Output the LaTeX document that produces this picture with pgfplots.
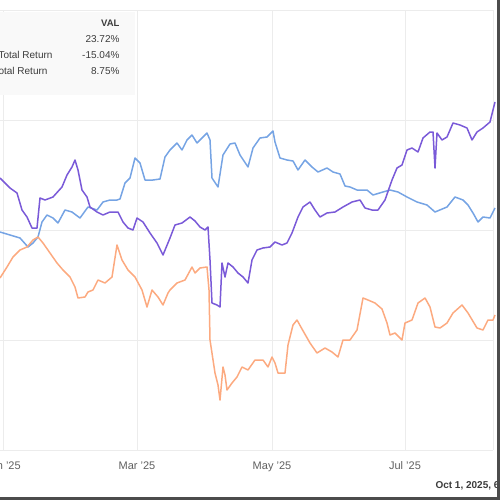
\documentclass[border=0pt]{standalone}
\usepackage{fontspec}
\setmainfont{Liberation Sans}
\usepackage{pgfplots}
\pgfplotsset{compat=1.18}

\definecolor{valpurple}{RGB}{122,90,216}
\definecolor{valblue}{RGB}{118,164,228}
\definecolor{valorange}{RGB}{252,170,128}
\definecolor{txtgray}{RGB}{60,60,60}
\definecolor{tickgray}{RGB}{95,95,95}

\begin{document}
\begin{tikzpicture}
\begin{axis}[
  scale only axis,
  width=493pt, height=440pt,
  xmin=0, xmax=493, ymin=10, ymax=450,
  y dir=reverse,
  clip=false,
  axis line style={draw=none},
  tick style={draw=none},
  xtick={3,137,272,405,493},
  xticklabels={Jan '25, Mar '25, May '25, Jul '25, {}},
  ytick={10,120,230,340,450},
  yticklabels={},
  grid=major,
  major grid style={gray!15, line width=0.9pt},
  xticklabel style={font=\fontsize{11}{13}\selectfont, text=tickgray, yshift=-8pt},
]
% legend panel
\fill[gray!5] (axis cs:-10,12) rectangle (axis cs:135,95);
\node[anchor=east, font=\bfseries\fontsize{9.5}{11}\selectfont, text=txtgray] at (axis cs:123,23) {VAL};
\node[anchor=east, font=\fontsize{10}{12}\selectfont, text=txtgray] at (axis cs:123,39) {23.72\%};
\node[anchor=east, font=\fontsize{10}{12}\selectfont, text=txtgray] at (axis cs:123,55) {-15.04\%};
\node[anchor=east, font=\fontsize{10}{12}\selectfont, text=txtgray] at (axis cs:123,71) {8.75\%};
\node[anchor=east, font=\fontsize{10}{12}\selectfont, text=txtgray] at (axis cs:56,55) {Total Return};
\node[anchor=east, font=\fontsize{10}{12}\selectfont, text=txtgray] at (axis cs:51,71) {Total Return};

% blue series
\addplot[valblue, line width=1.5pt, line join=round] coordinates {
(0,232) (10,235) (20,238) (28,247) (33,243) (38,237) (42,222) (47,215) (53,218)
(58,223) (65,210) (72,212) (80,218) (88,207) (97,210) (103,202) (110,200) (117,200)
(120,199) (125,183) (130,178) (135,158) (140,163) (145,180) (153,180) (160,179)
(165,157) (170,150) (177,143) (182,150) (187,140) (192,135) (197,143) (202,138)
(207,133) (210,140) (212,178) (218,187) (223,155) (230,144) (235,143) (240,155)
(248,167) (253,148) (260,138) (267,137) (273,131) (275,142) (280,158) (287,160)
(293,161) (298,170) (305,160) (312,167) (318,172) (327,168) (333,172) (340,174)
(345,186) (350,187) (357,190) (367,190) (373,195) (383,192) (390,190) (398,192)
(407,197) (417,202) (427,205) (435,212) (447,207) (455,197) (463,200) (468,205)
(473,213) (478,222) (483,217) (490,218) (495,208)
};

% orange series
\addplot[valorange, line width=1.5pt, line join=round] coordinates {
(0,278) (7,267) (13,257) (20,250) (27,247) (33,240) (38,237) (43,243) (50,253)
(57,263) (63,270) (70,277) (75,287) (78,298) (85,297) (88,292) (93,290) (98,280)
(105,283) (112,277) (117,245) (122,260) (128,270) (135,277) (142,290) (147,307)
(152,290) (158,297) (163,305) (168,293) (170,290) (177,283) (185,280) (192,267)
(195,273) (200,268) (207,267) (209,290) (210,340) (215,373) (218,385) (220,400)
(223,367) (225,375) (227,390) (232,383) (237,377) (242,367) (248,370) (255,360)
(263,360) (268,367) (272,357) (275,363) (278,373) (285,373) (288,345) (293,325)
(297,320) (302,329) (310,343) (317,353) (325,348) (332,352) (338,357) (343,340)
(350,340) (357,330) (363,298) (368,300) (375,303) (382,309) (387,323) (390,335)
(395,333) (402,340) (405,323) (412,320) (418,303) (425,298) (430,307) (435,327)
(440,328) (447,323) (453,313) (462,305) (468,313) (477,328) (483,330) (488,320)
(493,320) (495,315)
};

% purple series
\addplot[valpurple, line width=1.5pt, line join=round] coordinates {
(0,178) (5,183) (10,188) (17,193) (22,210) (27,217) (32,228) (37,228) (40,198)
(45,200) (53,197) (62,187) (67,175) (72,167) (75,160) (78,170) (82,190) (87,197)
(90,207) (97,212) (103,215) (110,212) (118,212) (123,222) (128,228) (133,230)
(137,218) (143,222) (150,233) (157,243) (163,255) (170,238) (175,225) (182,223)
(190,217) (195,221) (200,227) (205,230) (208,227) (210,260) (212,303) (217,305)
(220,307) (222,263) (225,277) (228,263) (233,267) (238,273) (243,277) (248,283)
(252,260) (257,250) (263,248) (270,247) (275,242) (282,245) (287,243) (292,233)
(298,217) (303,207) (310,202) (315,210) (320,217) (327,213) (335,212) (343,207)
(352,202) (360,200) (365,208) (372,210) (378,210) (385,200) (392,180) (397,168)
(402,165) (407,150) (412,148) (418,152) (423,138) (430,132) (433,132) (434,150)
(435,168) (436,150) (437,133) (442,140) (447,137) (453,123) (460,125) (467,128)
(472,140) (477,132) (483,128) (490,122) (493,110) (495,102)
};

% date stamp
\node[anchor=west, font=\bfseries\fontsize{10}{12}\selectfont, text=txtgray] at (axis cs:432,486) {Oct 1, 2025, 6:00 PM EDT};

% screenshot frame
\draw[line width=3pt, black!70] (axis cs:498.5,-5) -- (axis cs:498.5,498.5) -- (axis cs:-5,498.5);

\coordinate (bbTL) at (axis cs:0,0);
\coordinate (bbBR) at (axis cs:500,500);
\end{axis}
\pgfresetboundingbox
\useasboundingbox (bbTL) rectangle (bbBR);
\end{tikzpicture}
\end{document}
